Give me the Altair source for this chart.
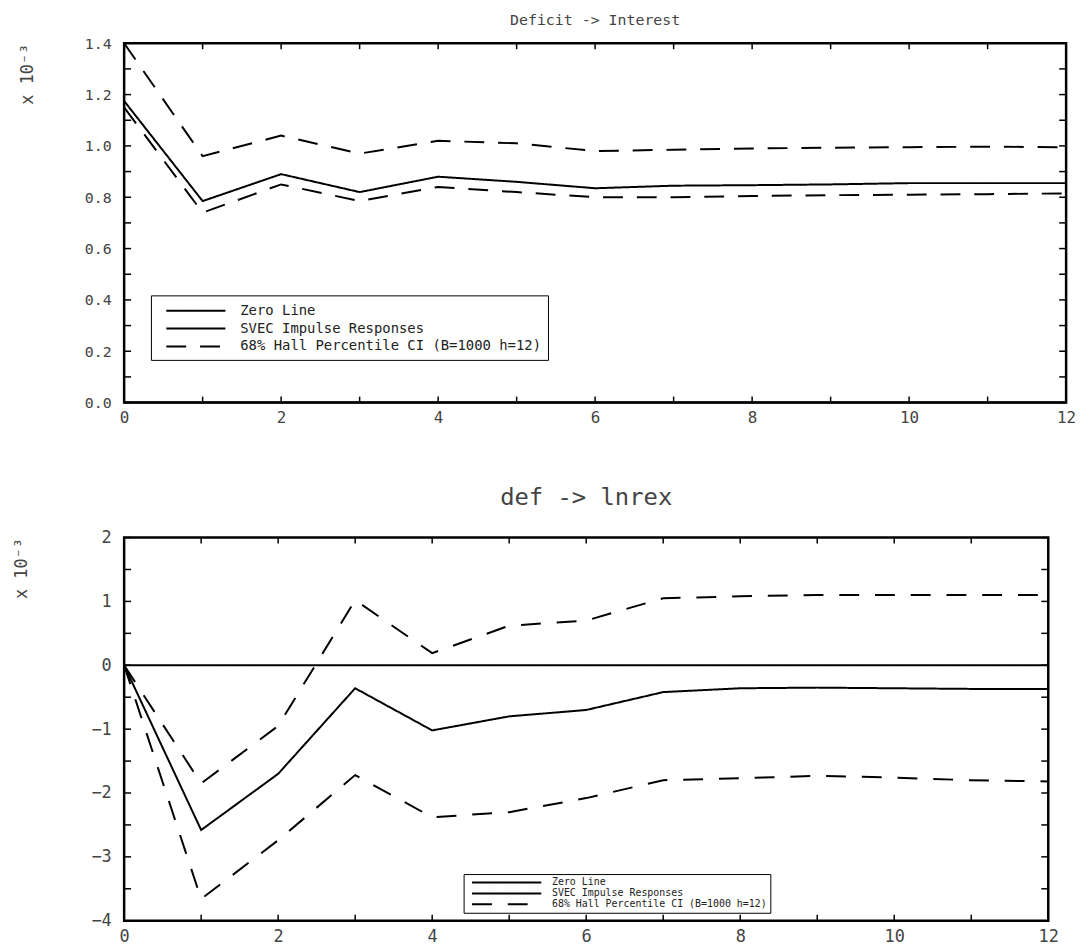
import altair as alt
import pandas as pd

# ---------------- data (values in units of 10^-3) ----------------
horizon = [0, 1, 2, 3, 4, 5, 6, 7, 8, 9, 10, 11, 12]

# Panel 1: Deficit -> Interest
top_zero = [0, 0, 0, 0, 0, 0, 0, 0, 0, 0, 0, 0, 0]
top_svec = [1.175, 0.785, 0.89, 0.82, 0.88, 0.86, 0.835, 0.845, 0.847, 0.85, 0.855, 0.855, 0.855]
top_upper = [1.40, 0.96, 1.04, 0.97, 1.02, 1.01, 0.98, 0.985, 0.99, 0.993, 0.995, 0.997, 0.995]
top_lower = [1.15, 0.74, 0.85, 0.785, 0.84, 0.82, 0.80, 0.80, 0.805, 0.808, 0.81, 0.812, 0.815]

# Panel 2: def -> lnrex
bot_zero = [0, 0, 0, 0, 0, 0, 0, 0, 0, 0, 0, 0, 0]
bot_svec = [0.0, -2.58, -1.70, -0.36, -1.02, -0.80, -0.70, -0.42, -0.36, -0.35, -0.36, -0.37, -0.37]
bot_upper = [0.0, -1.85, -0.95, 1.02, 0.19, 0.62, 0.70, 1.05, 1.08, 1.10, 1.10, 1.10, 1.10]
bot_lower = [0.0, -3.66, -2.74, -1.72, -2.38, -2.30, -2.08, -1.80, -1.77, -1.73, -1.76, -1.80, -1.82]

series_names = ["Zero Line", "SVEC Impulse Responses", "68% Hall Percentile CI (B=1000 h=12)"]

x_label_values = [0, 2, 4, 6, 8, 10, 12]
x_tick_values = [0, 1, 2, 3, 4, 5, 6, 7, 8, 9, 10, 11, 12]

top_y_label_values = [0.0, 0.2, 0.4, 0.6, 0.8, 1.0, 1.2, 1.4]
top_y_tick_values = [0.0, 0.1, 0.2, 0.3, 0.4, 0.5, 0.6, 0.7, 0.8, 0.9, 1.0, 1.1, 1.2, 1.3, 1.4]
bot_y_label_values = [-4, -3, -2, -1, 0, 1, 2]
bot_y_tick_values = [-4, -3.5, -3, -2.5, -2, -1.5, -1, -0.5, 0, 0.5, 1, 1.5, 2]

FONT = "DejaVu Sans Mono"
TXT = "#444444"


def long_table(zero, svec, upper, lower):
    rows = []
    for i, hh in enumerate(horizon):
        rows.append({"h": hh, "value": zero[i], "series": series_names[0], "line": "zero"})
        rows.append({"h": hh, "value": svec[i], "series": series_names[1], "line": "svec"})
        rows.append({"h": hh, "value": upper[i], "series": series_names[2], "line": "upper"})
        rows.append({"h": hh, "value": lower[i], "series": series_names[2], "line": "lower"})
    return pd.DataFrame(rows)


def panel(df, title, title_size, title_offset, ydomain, ylabels, yticks, yformat,
          W, H, xfs, yfs, ytitle_x, dash, leg):
    X = alt.X("h:Q", scale=alt.Scale(domain=[0, 12], nice=False),
              axis=alt.Axis(values=x_label_values, title=None, labelFlush=False,
                            grid=False, domain=False, ticks=False,
                            labelFontSize=xfs, labelPadding=xfs * 0.45,
                            labelFont=FONT, labelColor=TXT))
    Y = alt.Y("value:Q", scale=alt.Scale(domain=ydomain, nice=False, zero=False),
              axis=alt.Axis(values=ylabels, format=yformat, title="x 10⁻³",
                            grid=False, domain=False, ticks=False,
                            labelFontSize=yfs, labelPadding=13, labelFont=FONT,
                            labelColor=TXT, titleFont=FONT, titleFontSize=17,
                            titleFontWeight="normal", titleColor=TXT,
                            titleAngle=270, titleX=ytitle_x, titleY=0,
                            titleAlign="right", titleBaseline="middle"))
    lines = alt.Chart(df).mark_line(color="black", strokeWidth=2).encode(
        x=X, y=Y,
        strokeDash=alt.StrokeDash(
            "series:N",
            scale=alt.Scale(domain=series_names, range=[[1, 0], [1, 0], dash]),
            legend=alt.Legend(title=None, orient="none", legendX=leg["x"], legendY=leg["y"],
                              strokeColor="black", fillColor="white", padding=leg["pad"],
                              symbolType=leg["path"], symbolSize=leg["size"],
                              symbolStrokeWidth=2, symbolStrokeColor="black",
                              symbolFillColor="transparent",
                              labelFont=FONT, labelFontSize=leg["fs"], labelColor="#222222",
                              labelOffset=leg["loff"], rowPadding=leg["rowpad"],
                              labelLimit=800)),
        detail="line:N",
    )
    xt = pd.DataFrame({"h": x_tick_values})
    yt = pd.DataFrame({"value": yticks})
    xb = alt.Chart(xt).mark_rule(color="black", strokeWidth=1.5).encode(
        x=X, y=alt.value(H), y2=alt.value(H - 6))
    xtop = alt.Chart(xt).mark_rule(color="black", strokeWidth=1.5).encode(
        x=X, y=alt.value(0), y2=alt.value(6))
    yl = alt.Chart(yt).mark_rule(color="black", strokeWidth=1.5).encode(
        y=Y, x=alt.value(0), x2=alt.value(7))
    yr = alt.Chart(yt).mark_rule(color="black", strokeWidth=1.5).encode(
        y=Y, x=alt.value(W - 7), x2=alt.value(W))
    return alt.layer(lines, xb, xtop, yl, yr).properties(
        width=W, height=H,
        title=alt.TitleParams(title, font=FONT, fontSize=title_size, fontWeight="normal",
                              color=TXT, anchor="middle", offset=title_offset),
    )


top = panel(long_table(top_zero, top_svec, top_upper, top_lower),
            "Deficit -> Interest", 15, 8, [0, 1.4], top_y_label_values,
            top_y_tick_values, ".1f", 949, 362, 16, 15, -97, [20, 14],
            {"x": 27, "y": 254, "pad": 6, "path": "M0,0H7", "size": 289,
             "fs": 14, "loff": 65, "rowpad": 1})
bottom = panel(long_table(bot_zero, bot_svec, bot_upper, bot_lower),
               "def -> lnrex", 24, 19, [-4, 2], bot_y_label_values,
               bot_y_tick_values, "d", 931, 386, 17, 17, -103, [20, 16],
               {"x": 342, "y": 339, "pad": 3, "path": "M0,0H15.5", "size": 81,
                "fs": 10, "loff": 75, "rowpad": 0})

chart = alt.vconcat(top, bottom, spacing=57).resolve_scale(
    x="independent", y="independent", strokeDash="independent"
).resolve_legend(strokeDash="independent").properties(
    padding={"left": 3, "top": 0, "right": 5, "bottom": 0},
    background="white",
).configure_view(stroke="black", strokeWidth=2.5).configure_axis(
    grid=False, domain=False, ticks=False
)

chart.save("out.html", embed_options={"renderer": "svg", "actions": False})
